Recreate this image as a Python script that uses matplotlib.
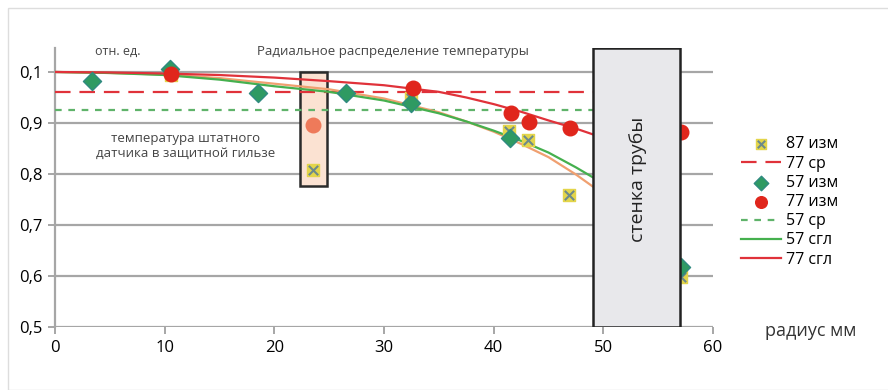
import matplotlib.pyplot as plt
from matplotlib.patches import Rectangle
from matplotlib.legend_handler import HandlerTuple

plt.rcParams['font.family'] = ['Open Sans', 'DejaVu Sans']

# measured points, radius mm / relative units
x87 = [10.6, 23.5, 32.5, 41.4, 43.1, 46.9, 57.05]
y87 = [0.994, 0.808, 0.949, 0.884, 0.867, 0.759, 0.598]

x57 = [3.4, 10.5, 18.5, 26.5, 32.5, 41.5, 57.05]
y57 = [0.982, 1.006, 0.959, 0.959, 0.939, 0.871, 0.618]

x77 = [10.6, 32.6, 41.6, 43.2, 47.0, 57.05]
y77 = [0.996, 0.969, 0.920, 0.902, 0.890, 0.882]
x77_box, y77_box = 23.5, 0.896

avg77 = 0.961
avg57 = 0.925

# smoothed curves
xs = [0, 5, 10, 15, 20, 25, 30, 35, 37.5, 40, 42.5, 45, 47.5, 49]
fit77 = [1.0, 0.999, 0.997, 0.994, 0.989, 0.982, 0.974, 0.961, 0.950, 0.937, 0.922,
         0.905, 0.889, 0.878]
fit57 = [1.0, 0.998, 0.994, 0.985, 0.972, 0.961, 0.944, 0.919, 0.903, 0.885, 0.865,
         0.842, 0.813, 0.794]
fit87 = [1.0, 0.998, 0.995, 0.988, 0.977, 0.966, 0.948, 0.921, 0.903, 0.883, 0.859,
         0.833, 0.799, 0.776]

yticks = [0.5, 0.6, 0.7, 0.8, 0.9, 1.0]
ylabels = ['0,5', '0,6', '0,7', '0,8', '0,9', '0,1']
xticks = [0, 10, 20, 30, 40, 50, 60]

fig = plt.figure(figsize=(8.88, 3.9), dpi=100)
fig.patches.append(Rectangle((8 / 888, 0), 1, 1 - 8 / 390, transform=fig.transFigure,
                             fill=False, edgecolor='#dddddd', lw=1))
ax = fig.add_axes([55 / 888, 63 / 390, 658 / 888, 279 / 390])
ax.set_xlim(0, 60)
ax.set_ylim(0.5, 1.047)

grid_c = '#a6a6a6'
for yv in yticks:
    ax.axhline(yv, color=grid_c, lw=1.6, zorder=1)

for s in ['top', 'right']:
    ax.spines[s].set_visible(False)
ax.spines['left'].set_color(grid_c)
ax.spines['left'].set_linewidth(1.6)
ax.spines['bottom'].set_visible(False)
ax.set_yticks(yticks)
ax.set_yticklabels(ylabels, fontsize=12)
ax.set_xticks(xticks)
ax.set_xticklabels([str(v) for v in xticks], fontsize=12)
ax.tick_params(axis='both', color=grid_c, width=1.4, length=5, pad=4)

# thermowell box and pipe wall
ax.add_patch(Rectangle((22.3, 0.776), 2.5, 1.0 - 0.776, facecolor='#fbe2d2',
                       edgecolor='#2b2b2b', lw=1.8, zorder=2))
ax.add_patch(Rectangle((49.1, 0.5), 7.9, 0.547, facecolor='#e8e8eb',
                       edgecolor='#222222', lw=1.8, zorder=6))
ax.text(53.2, 0.79, 'стенка трубы', rotation=90, ha='center', va='center',
        fontsize=14, color='#222222', zorder=7)

ax.plot([0, 49.1], [avg77, avg77], color='#e0323a', lw=1.6,
        dashes=(7, 4), zorder=3, label='77 ср')
ax.plot([0, 49.1], [avg57, avg57], color='#5fb36a', lw=1.6,
        dashes=(3, 3), zorder=3, label='57 ср')
ax.plot(xs, fit87, color='#f0a070', lw=1.6, zorder=3)
ax.plot(xs, fit57, color='#45b04e', lw=1.6, zorder=3, label='57 сгл')
ax.plot(xs, fit77, color='#e0323a', lw=1.6, zorder=3, label='77 сгл')

sq = ax.scatter(x87, y87, marker='s', s=85, color='#e3d54a', zorder=4)
xx = ax.scatter(x87, y87, marker='x', s=45, color='#6d8a8a', linewidths=1.5, zorder=4)
dm = ax.scatter(x57, y57, marker='D', s=85, color='#2f9a62', edgecolors='#2f8a80',
                zorder=5, label='57 изм')
rc = ax.scatter(x77, y77, marker='o', s=110, color='#e0261c', zorder=5, label='77 изм')
ax.scatter([x77_box], [y77_box], marker='o', s=110, color='#ee7a5a', zorder=5)

txt_c = '#444444'
ax.text(5.7, 1.04, 'отн. ед.', fontsize=9, color=txt_c, ha='center', va='center')
ax.text(30.8, 1.04, 'Радиальное распределение температуры', fontsize=9.5,
        color=txt_c, ha='center', va='center')
ax.text(11.9, 0.855, 'температура штатного\nдатчика в защитной гильзе', fontsize=9.5,
        color=txt_c, ha='center', va='center', linespacing=1.1)
fig.text(765 / 888, (390 - 331) / 390, 'радиус мм', fontsize=13, color='#333333',
         ha='left', va='center')

handles, labels = ax.get_legend_handles_labels()
hmap = dict(zip(labels, handles))
order = ['77 ср', '57 изм', '77 изм', '57 ср', '57 сгл', '77 сгл']
leg = fig.legend([(sq, xx)] + [hmap[k] for k in order], ['87 изм'] + order,
                 handler_map={tuple: HandlerTuple(ndivide=1)},
                 loc='upper left', bbox_to_anchor=(735 / 888, 1 - 130 / 390),
                 frameon=False, fontsize=11.5, handlelength=2.5, handletextpad=0.3,
                 labelspacing=0.2, borderaxespad=0, markerscale=0.8)

fig.savefig('out.png', dpi=100)
